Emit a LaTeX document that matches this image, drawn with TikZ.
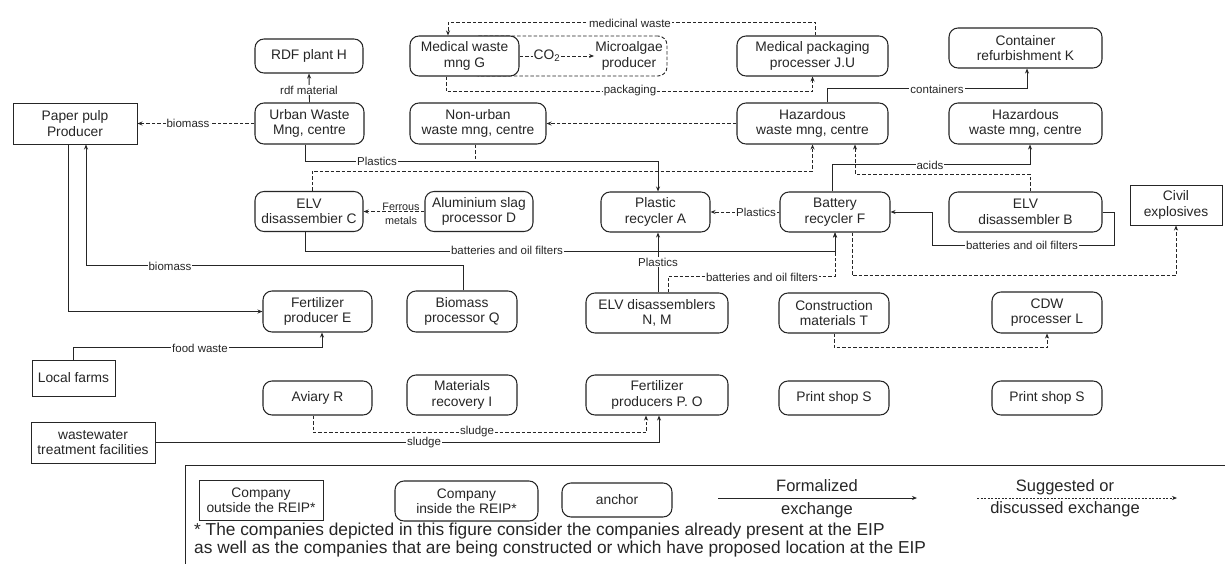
\documentclass[tikz,border=0pt]{standalone}
\usepackage{fontspec}
\setmainfont{Liberation Sans}
\usetikzlibrary{arrows.meta}
\definecolor{ink}{HTML}{262626}
\newcommand{\eipNode}{\fontsize{13.8}{15.5}\selectfont}
\newcommand{\eipLbl}{\fontsize{11.5}{13}\selectfont}
\newcommand{\eipSmall}{\fontsize{10.8}{14}\selectfont}
\newcommand{\eipLeg}{\fontsize{16.5}{18}\selectfont}
\newcommand{\eipFoot}{\fontsize{17.3}{16}\selectfont}
\begin{document}
\begin{tikzpicture}[x=1pt,y=-1pt,
  inbox/.style={draw=ink, line width=1.05pt, rounded corners=9pt, fill=white, align=center, inner sep=0pt, font=\eipNode, text=ink},
  outbox/.style={draw=ink, line width=0.95pt, fill=white, align=center, inner sep=0pt, font=\eipNode, text=ink},
  lbl/.style={fill=white, inner sep=1pt, font=\eipLbl, text=ink},
  conn/.style={draw=ink, line width=0.9pt},
  arr/.style={-{Stealth[length=5pt,width=4pt]}},
  dsh/.style={dash pattern=on 3.5pt off 2pt},
  plain/.style={font=\eipNode, text=ink, align=center, inner sep=1pt},
  legtext/.style={font=\eipLeg, text=ink, inner sep=0pt}
]
\fill[white] (0,0) rectangle (1225,563);
\useasboundingbox (0,0) rectangle (1225,563);

% ---------- nodes ----------
\node[outbox, minimum width=124pt, minimum height=41pt] (paper) at (75,123.5) {Paper pulp\\Producer};
\node[inbox, minimum width=108pt, minimum height=34pt] (rdf) at (309,56) {RDF plant H};
\node[inbox, minimum width=109pt, minimum height=41pt] (urban) at (309.5,123.5) {Urban Waste\\Mng, centre};
\node[draw=ink, line width=0.9pt, dsh, rounded corners=9pt, minimum width=197pt, minimum height=40pt, inner sep=0pt] (microbox) at (568.5,56) {};
\node[inbox, minimum width=109pt, minimum height=40pt] (medG) at (464.5,56) {Medical waste\\mng G};
\node[plain] (micro) at (629,56) {Microalgae\\producer};
\node[plain] (co2) at (547,56) {CO\textsubscript{2}};
\node[inbox, minimum width=151pt, minimum height=40pt] (jus) at (812.5,56) {Medical packaging\\processer J.U};
\node[inbox, minimum width=153pt, minimum height=40pt] (cont) at (1025.5,48) {Container\\refurbishment K};
\node[inbox, minimum width=136pt, minimum height=41pt] (nonurban) at (478,123.5) {Non-urban\\waste mng, centre};
\node[inbox, minimum width=151pt, minimum height=41pt] (haz1) at (812.5,123.5) {Hazardous\\waste mng, centre};
\node[inbox, minimum width=153pt, minimum height=41pt] (haz2) at (1025.5,123.5) {Hazardous\\waste mng, centre};
\node[inbox, minimum width=108pt, minimum height=40pt] (elvC) at (309,211.5) {ELV\\disassembier C};
\node[inbox, minimum width=108pt, minimum height=40pt] (alD) at (479,211.5) {Aluminium slag\\processor D};
\node[inbox, minimum width=109pt, minimum height=40pt] (plA) at (655.5,212) {Plastic\\recycler A};
\node[inbox, minimum width=110pt, minimum height=40pt] (batF) at (835,212) {Battery\\recycler F};
\node[inbox, minimum width=153pt, minimum height=40pt] (elvB) at (1025.5,212) {ELV\\disassembler B};
\node[outbox, minimum width=92pt, minimum height=40pt] (civil) at (1176,205) {Civil\\explosives};
\node[inbox, minimum width=109pt, minimum height=41pt] (fertE) at (317.5,311.5) {Fertilizer\\producer E};
\node[inbox, minimum width=110pt, minimum height=41pt] (bioQ) at (462,311.5) {Biomass\\processor Q};
\node[inbox, minimum width=142pt, minimum height=40pt] (elvNM) at (657,313) {ELV disassemblers\\N, M};
\node[inbox, minimum width=110pt, minimum height=40pt] (conT) at (834,313) {Construction\\materials T};
\node[inbox, minimum width=110pt, minimum height=41pt] (cdw) at (1047,312.5) {CDW\\processer L};
\node[outbox, minimum width=83pt, minimum height=36pt] (farms) at (73.5,378) {Local farms};
\node[inbox, minimum width=109pt, minimum height=34pt] (aviary) at (317.5,398) {Aviary R};
\node[inbox, minimum width=110pt, minimum height=40pt] (matI) at (462,395) {Materials\\recovery I};
\node[inbox, minimum width=142pt, minimum height=40pt] (fertPO) at (657,395) {Fertilizer\\producers P. O};
\node[inbox, minimum width=110pt, minimum height=34pt] (print1) at (834,398) {Print shop S};
\node[inbox, minimum width=110pt, minimum height=34pt] (print2) at (1047,398) {Print shop S};
\node[outbox, minimum width=124pt, minimum height=41pt] (wwtf) at (93,442.5) {wastewater\\treatment facilities};

% ---------- connectors ----------
\draw[conn, dsh] (medG.east) -- (co2.west);
\draw[conn, dsh, arr] (co2.east) -- (micro.west);
\draw[conn, arr] (urban.north) -- (rdf.south);
\draw[conn, dsh, arr] (urban.west) -- (urban.west -| paper.east);
\draw[conn, arr] ([xshift=-4.5pt]urban.south) -- ++(0,17) -| ([xshift=2.5pt]plA.north);
\draw[conn, dsh] ([xshift=-3pt]nonurban.south) -- ++(0,17);
\draw[conn, dsh, arr] ([xshift=3pt]elvC.north) -- ++(0,-20) -| (haz1.south);
\draw[conn, dsh, arr] (haz1.west) -- (haz1.west -| nonurban.east);
\draw[conn, dsh, arr] ([xshift=2.5pt]jus.north) -- ++(0,-13) -| ([xshift=-16.5pt]medG.north);
\draw[conn, dsh, arr] ([xshift=-18.5pt]medG.south) -- ++(0,15) -| (jus.south);
\draw[conn, arr] ([xshift=14.5pt]haz1.north) -- ++(0,-14) -| ([xshift=1.5pt]cont.south);
\draw[conn, arr] ([xshift=-3pt]batF.north) -- ++(0,-27) -| ([xshift=4.5pt]haz2.south);
\draw[conn, dsh, arr] ([xshift=4.5pt]elvB.north) -- ++(0,-17) -| ([xshift=42.5pt]haz1.south);
\draw[conn, dsh, arr] (alD.west) -- (alD.west -| elvC.east);
\draw[conn, arr] ([xshift=-4pt]elvC.south) -- ++(0,19) -| (batF.south);
\draw[conn, arr] ([xshift=1pt]elvNM.north) -- ([xshift=2.5pt]plA.south);
\draw[conn, dsh, arr] ([xshift=11pt]elvNM.north) -- ++(0,-16) -| (batF.south);
\draw[conn, dsh, arr] (batF.west) -- (batF.west -| plA.east);
\draw[conn, arr] (elvB.east) -- ++(12,0) -- ++(0,33) -- ++(-182,0) -- ++(0,-33) -- (batF.east);
\draw[conn, dsh, arr] ([xshift=17pt]batF.south) -- ++(0,43) -| (civil.south);
\draw[conn, arr] ([xshift=1pt]bioQ.north) -- ++(0,-25) -| ([xshift=11pt]paper.south);
\draw[conn, arr] ([xshift=-7pt]paper.south) |- (fertE.west);
\draw[conn, arr] (farms.north) -- ++(0,-12) -| ([xshift=4.5pt]fertE.south);
\draw[conn, dsh, arr] (conT.south) -- ++(0,14) -| (cdw.south);
\draw[conn, arr] (wwtf.east) -| ([xshift=2pt]fertPO.south);
\draw[conn, dsh, arr] ([xshift=-4.5pt]aviary.south) -- ++(0,17) -| ([xshift=-11pt]fertPO.south);

% ---------- connector labels ----------
\node[lbl] (lrdf) at (309,90) {rdf material};
\node[lbl] (lbio1) at (188,123.5) {biomass};
\node[lbl] (lpl1) at (377,161) {Plastics};
\node[lbl] (lmed) at (630,23) {medicinal waste};
\node[lbl] (lpack) at (630,91) {packaging};
\node[lbl] (lcont) at (937,89) {containers};
\node[lbl] (lacid) at (930,165) {acids};
\node[font=\eipSmall, text=ink, align=center, inner sep=0pt] (lfer) at (401,214) {Ferrous\\metals};
\node[lbl] (lbat1) at (507,250) {batteries and oil filters};
\node[lbl] (lpl2) at (658,262) {Plastics};
\node[lbl] (lbat2) at (762,277) {batteries and oil filters};
\node[lbl] (lpl3) at (756,212) {Plastics};
\node[lbl] (lbat3) at (1022,245) {batteries and oil filters};
\node[lbl] (lbio2) at (170,266) {biomass};
\node[lbl] (lfood) at (200,348) {food waste};
\node[lbl] (lsl1) at (424,443) {sludge};
\node[lbl] (lsl2) at (477,432) {sludge};

% ---------- legend ----------
\coordinate (lgA) at (185,566);
\coordinate (lgB) at (185,465);
\coordinate (lgC) at (1227,465);
\draw[conn, line width=1pt] (lgA) -- (lgB) -- (lgC);
\node[outbox, minimum width=124pt, minimum height=40pt] (legOut) at (261,500) {Company\\outside the REIP*};
\node[inbox, minimum width=143pt, minimum height=40pt] (legIn) at (466.5,501) {Company\\inside the REIP*};
\node[inbox, minimum width=110pt, minimum height=34pt] (legAnc) at (617,500) {anchor};
\coordinate (fA) at (718,498);
\coordinate (fB) at (917,498);
\draw[conn, arr] (fA) -- (fB);
\node[legtext] (fT1) at (817,486) {Formalized};
\node[legtext] (fT2) at (817,510) {exchange};
\coordinate (sA) at (977,498);
\coordinate (sB) at (1177,498);
\draw[conn, arr, line width=0.8pt, dash pattern=on 2pt off 1.5pt] (sA) -- (sB);
\node[legtext] (sT1) at (1065,487) {Suggested or};
\node[legtext] (sT2) at (1065,509) {discussed exchange};
\node[font=\eipFoot, text=ink, align=left, anchor=west, inner sep=0pt] (foot) at (194,540)
  {* The companies depicted in this figure consider the companies already present at the EIP\\as well as the companies that are being constructed or which have proposed location at the EIP};
\end{tikzpicture}
\end{document}
